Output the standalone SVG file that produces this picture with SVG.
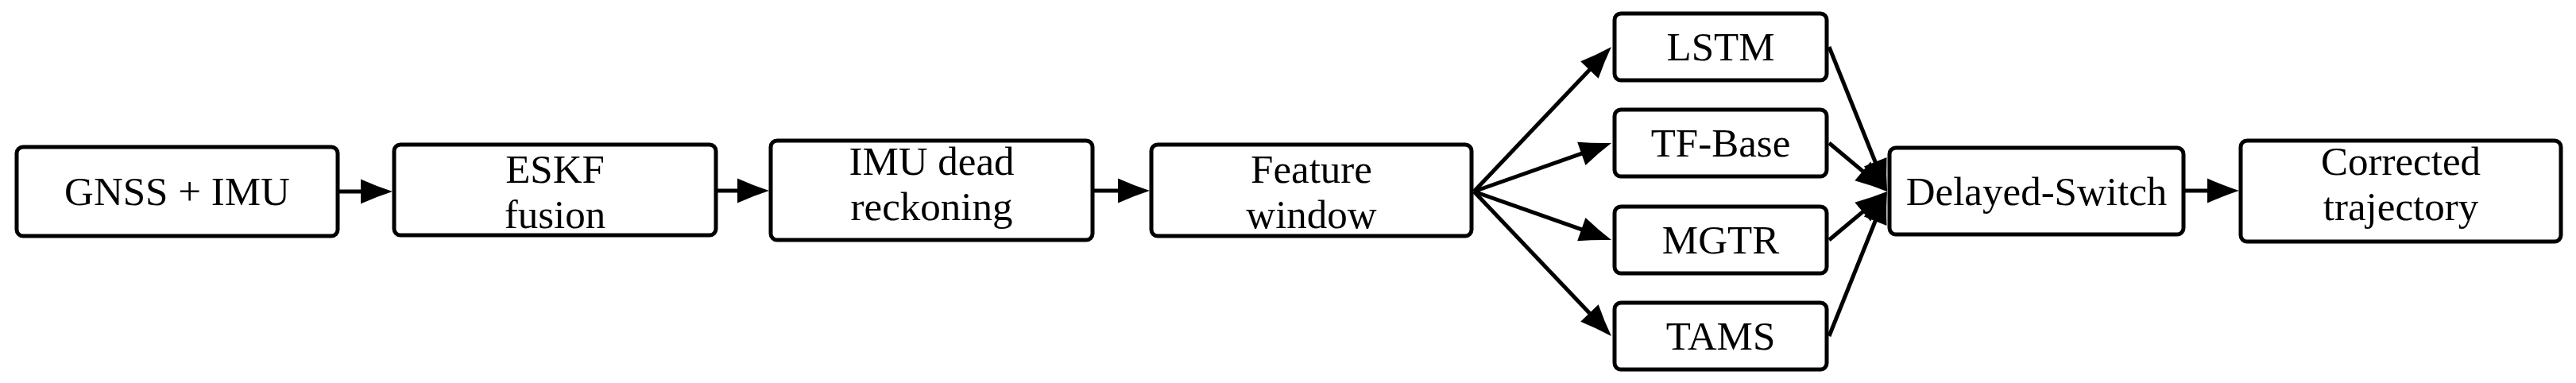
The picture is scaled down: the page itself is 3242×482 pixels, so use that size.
<svg xmlns="http://www.w3.org/2000/svg" width="3242" height="482" viewBox="0 0 3242 482">
<style>
.box{fill:#fff;stroke:#000;stroke-width:5}
.lbl{font-family:"Liberation Serif","Times New Roman",serif;font-size:51px;fill:#000;text-anchor:middle}
.edge{stroke:#000;stroke-width:5;fill:none;marker-end:url(#ah)}
</style>
<defs>
<marker id="ah" markerUnits="userSpaceOnUse" markerWidth="50" markerHeight="40" refX="2" refY="0" orient="auto" overflow="visible" viewBox="0 -20 50 40">
<path d="M0,-15.5 Q20,-6.5 40,0 Q20,6.5 0,15.5 Z" fill="#000"/>
</marker>
</defs>
<rect width="3242" height="482" fill="#fff"/>
<g id="connectors">
<line class="edge" x1="427" y1="241" x2="456" y2="241"/>
<line class="edge" x1="903" y1="240" x2="930" y2="240"/>
<line class="edge" x1="1377" y1="240" x2="1409" y2="240"/>
<line class="edge" x1="1855" y1="241" x2="2001.8" y2="86.5"/>
<line class="edge" x1="1855" y1="241" x2="1992.2" y2="192.6"/>
<line class="edge" x1="1855" y1="241" x2="1992.2" y2="289.4"/>
<line class="edge" x1="1855" y1="241" x2="2001.8" y2="395.5"/>
<line class="edge" x1="2302" y1="59" x2="2360.9" y2="205.7"/>
<line class="edge" x1="2302" y1="180" x2="2345.8" y2="216.6"/>
<line class="edge" x1="2302" y1="302" x2="2345.8" y2="265.4"/>
<line class="edge" x1="2302" y1="423" x2="2360.9" y2="276.3"/>
<line class="edge" x1="2750" y1="240" x2="2780" y2="240"/>
</g>
<g id="gnss_imu">
<rect class="box" x="21" y="185" width="404" height="112" rx="8"/>
<text class="lbl" x="223" y="258">GNSS + IMU</text>
</g>
<g id="eskf">
<rect class="box" x="496" y="182" width="405" height="114" rx="8"/>
<text class="lbl" x="698.5" y="230">ESKF</text>
<text class="lbl" x="698.5" y="287">fusion</text>
</g>
<g id="imu_dr">
<rect class="box" x="970" y="177" width="405" height="125" rx="8"/>
<text class="lbl" x="1172.5" y="220">IMU dead</text>
<text class="lbl" x="1172.5" y="277">reckoning</text>
</g>
<g id="feature">
<rect class="box" x="1449" y="182" width="403" height="115" rx="8"/>
<text class="lbl" x="1650.5" y="230">Feature</text>
<text class="lbl" x="1650.5" y="287">window</text>
</g>
<g id="lstm">
<rect class="box" x="2032" y="17" width="267" height="84" rx="8"/>
<text class="lbl" x="2165.5" y="76">LSTM</text>
</g>
<g id="tfbase">
<rect class="box" x="2032" y="138" width="267" height="84" rx="8"/>
<text class="lbl" x="2165.5" y="197">TF-Base</text>
</g>
<g id="mgtr">
<rect class="box" x="2032" y="260" width="267" height="84" rx="8"/>
<text class="lbl" x="2165.5" y="319">MGTR</text>
</g>
<g id="tams">
<rect class="box" x="2032" y="381" width="267" height="84" rx="8"/>
<text class="lbl" x="2165.5" y="440">TAMS</text>
</g>
<g id="switch">
<rect class="box" x="2378" y="186" width="370" height="109" rx="8"/>
<text class="lbl" x="2563" y="257.5">Delayed-Switch</text>
</g>
<g id="corrected">
<rect class="box" x="2820" y="177" width="403" height="127" rx="8"/>
<text class="lbl" x="3021.5" y="220">Corrected</text>
<text class="lbl" x="3021.5" y="277">trajectory</text>
</g>
</svg>
